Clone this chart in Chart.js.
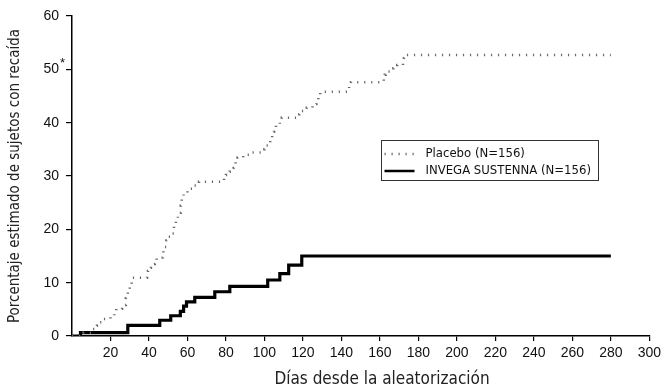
<!DOCTYPE html>
<html><head><meta charset="utf-8">
<script src="https://cdn.jsdelivr.net/npm/chart.js@4/dist/chart.umd.min.js"></script>
<style>html,body{margin:0;padding:0;background:#fff}#wrap{width:665px;height:387px}</style>
</head><body><div id="wrap"><canvas id="c" width="665" height="387"></canvas></div>
<script>
// ---- data ----
const seriesLabels = ['Placebo (N=156)', 'INVEGA SUSTENNA (N=156)'];
const placeboDays = [0,6,10,13,14.5,16,20,22,23,26,28,29,30,31,39,39.5,40,41,43,44,47,47.5,48,49,50,51.5,53,54,55,56.5,57,58,60,63,66,79,80,82,84,85,86,89,93,100,101,102.5,103,104,105,106,108,109,117,118,122,125,127,128,129,143,144,145,162,162.5,163,167,169,172,172.5,174,280];
const placeboPct  = [0,0.6,1.3,1.9,2.6,3.2,3.8,4.5,5.1,5.8,7.1,8.3,9.6,10.9,11.5,12.2,12.8,13.5,14.1,14.7,15.4,16.0,16.7,17.9,18.6,19.2,20.5,21.8,23.1,24.4,25.7,26.9,27.6,28.2,28.9,29.5,30.2,30.8,31.5,32.8,33.4,34.0,34.4,35.0,35.7,36.3,37.0,38.3,39.0,39.6,40.3,40.9,41.6,42.2,42.8,43.5,44.1,44.8,45.8,46.3,47.0,47.6,48.3,49.0,49.6,50.2,50.8,51.5,52.1,52.7,52.7];
const invegaDays  = [0,4.4,29,45.6,51.3,56.3,58,59.5,63.8,74.2,82,101.7,108,112.6,119.4,280];
const invegaPct   = [0,0.65,2.0,2.95,3.8,4.6,5.6,6.4,7.25,8.3,9.3,10.5,11.7,13.3,15.0,15.0];
const xTicks = [20,40,60,80,100,120,140,160,180,200,220,240,260,280,300];
const yTicks = [0,10,20,30,40,50,60];
const xTitle = 'Días desde la aleatorización';
const yTitle = 'Porcentaje estimado de sujetos con recaída';

const toPts = (xs, ys) => xs.map((x, i) => ({x: x, y: ys[i]}));
const narrow = "'Liberation Sans Narrow','DejaVu Sans Condensed','Liberation Sans',sans-serif";
const regular = "'Liberation Sans',Arial,sans-serif";

const styles = [
  {borderColor: '#6a6a6a', borderWidth: 2.5, borderDash: [1.2, 5.8]},
  {borderColor: '#000', borderWidth: 3.2, borderDash: []}
];

const extras = {
  id: 'extras',
  afterDraw(chart) {
    const ctx = chart.ctx;
    const ys = chart.scales.y;
    const xs = chart.scales.x;
    ctx.save();
    // asterisk next to 50
    ctx.fillStyle = '#111';
    ctx.font = '13px ' + regular;
    ctx.textAlign = 'left';
    ctx.textBaseline = 'middle';
    ctx.fillText('*', ys.right - 12, ys.getPixelForValue(50) - 6);
    // x axis title
    ctx.fillStyle = '#222';
    ctx.font = '17px ' + narrow;
    ctx.textAlign = 'center';
    ctx.textBaseline = 'alphabetic';
    ctx.fillText(xTitle, xs.left + 310, xs.bottom - 3);
    // legend box
    ctx.textAlign = 'left';
    const bx = 381.5, by = 140.5, bw = 217, bh = 40;
    ctx.strokeStyle = '#333';
    ctx.lineWidth = 1;
    ctx.strokeRect(bx, by, bw, bh);
    const rows = [154, 171];
    chart.data.datasets.forEach((ds, i) => {
      const st = styles[i];
      ctx.beginPath();
      ctx.setLineDash(st.borderDash);
      ctx.strokeStyle = st.borderColor;
      ctx.lineWidth = 2.5;
      ctx.moveTo(bx + 3, rows[i]);
      ctx.lineTo(bx + 33, rows[i]);
      ctx.stroke();
      ctx.setLineDash([]);
      ctx.fillStyle = '#111';
      ctx.font = '13px ' + narrow;
      ctx.textBaseline = 'middle';
      ctx.fillText(ds.label, bx + 44, rows[i] - 0.5);
    });
    ctx.restore();
  }
};

new Chart(document.getElementById('c'), {
  type: 'line',
  data: {
    datasets: [
      Object.assign({label: seriesLabels[0], data: toPts(placeboDays, placeboPct)}, styles[0]),
      Object.assign({label: seriesLabels[1], data: toPts(invegaDays, invegaPct)}, styles[1])
    ].map(d => Object.assign(d, {stepped: true, pointRadius: 0, fill: false, tension: 0, borderCapStyle: 'butt', borderJoinStyle: 'miter'}))
  },
  options: {
    responsive: false,
    animation: false,
    devicePixelRatio: 1,
    layout: {padding: {top: 16, right: 15, left: 0, bottom: 0}},
    plugins: {legend: {display: false}, tooltip: {enabled: false}},
    scales: {
      x: {
        type: 'linear', min: 0, max: 300,
        afterBuildTicks: s => { s.ticks = xTicks.map(v => ({value: v})); },
        afterFit: s => { s.height = 51; },
        ticks: {color: '#111', font: {family: regular, size: 14}, padding: 4, maxRotation: 0, autoSkip: false},
        grid: {display: true, drawOnChartArea: false, drawTicks: true, tickLength: 5, color: '#000', lineWidth: 1.2},
        border: {display: true, color: '#000', width: 1.5},
        title: {display: false}
      },
      y: {
        type: 'linear', min: 0, max: 60,
        afterBuildTicks: s => { s.ticks = yTicks.map(v => ({value: v})); },
        afterFit: s => { s.width = 72; },
        ticks: {color: '#111', font: {family: regular, size: 14}, padding: 7},
        grid: {display: true, drawOnChartArea: false, drawTicks: true, tickLength: 6, color: '#000', lineWidth: 1.2},
        border: {display: true, color: '#000', width: 1.5},
        title: {display: true, text: yTitle, color: '#222', font: {family: narrow, size: 15, lineHeight: 1.1}, padding: {top: 7, bottom: 0}}
      }
    }
  },
  plugins: [extras]
});
</script>
</body></html>
